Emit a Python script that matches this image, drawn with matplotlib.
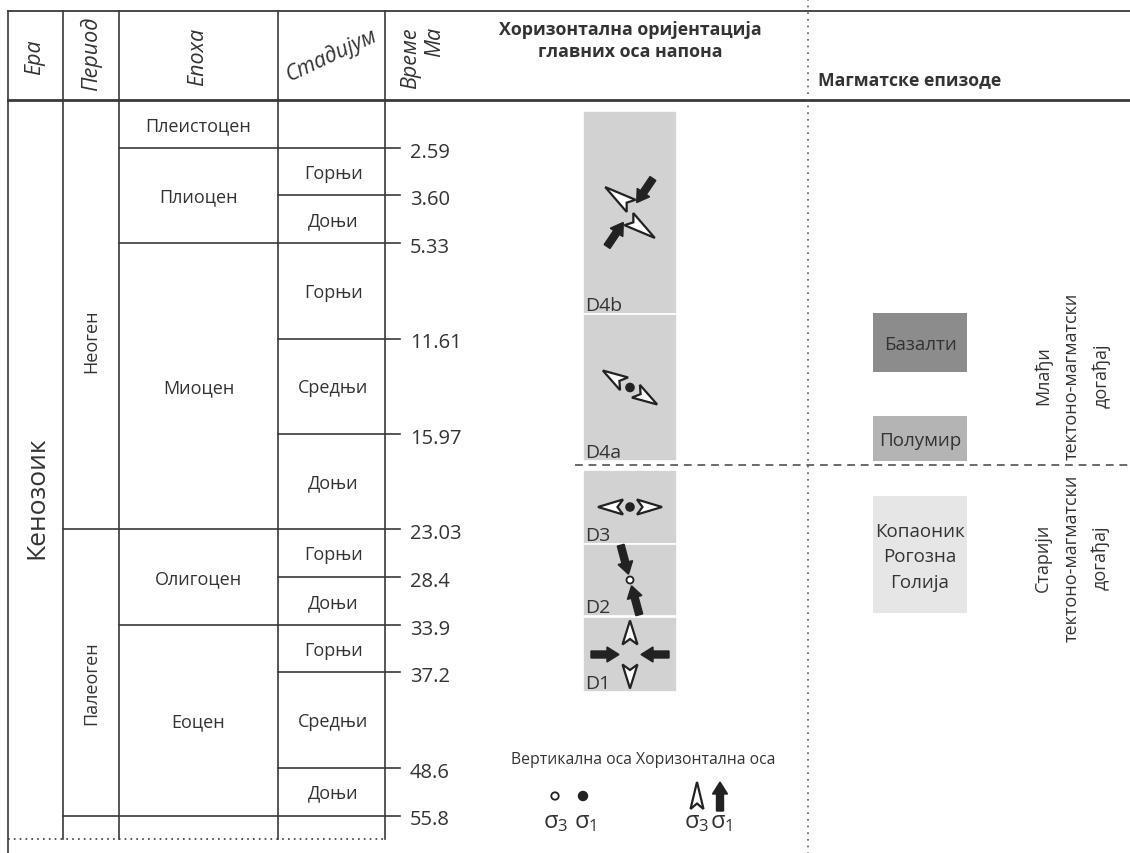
import numpy as np
import matplotlib.pyplot as plt
from matplotlib.patches import Rectangle, Polygon, Circle, FancyArrow

plt.rcParams['font.family'] = ['Open Sans', 'DejaVu Sans']
plt.rcParams['mathtext.default'] = 'regular'

# ---- data ----
era = 'Кенозоик'
periods = ['Неоген', 'Палеоген']
period_epochs = [3, 2]
epochs = ['Плеистоцен', 'Плиоцен', 'Миоцен', 'Олигоцен', 'Еоцен']
epoch_stages = [1, 2, 3, 2, 3]
stages = ['', 'Горњи', 'Доњи', 'Горњи', 'Средњи', 'Доњи',
          'Горњи', 'Доњи', 'Горњи', 'Средњи', 'Доњи']
stage_rows = [1, 1, 1, 2, 2, 2, 1, 1, 1, 2, 1]
ages = ['2.59', '3.60', '5.33', '11.61', '15.97', '23.03',
        '28.4', '33.9', '37.2', '48.6', '55.8']

phases = ['D4b', 'D4a', 'D3', 'D2', 'D1']
phase_span = [(112, 315), (315, 462), (471, 545), (545, 617), (618, 693)]
# sigma1 horizontal azimuth, sigma3 horizontal azimuth, vertical axis
phase_s1 = [56, None, None, 105, 0]
phase_s3 = [144, 148, 0, None, 90]
phase_vert = [None, 's1', 's1', 's3', None]

magma = ['Базалти', 'Полумир', 'Копаоник\nРогозна\nГолија']
magma_span = [(314, 373), (417, 462), (497, 614)]
magma_col = ['#8c8c8c', '#b4b4b4', '#e6e6e6']

events = ['Млађи\nтектоно-магматски\nдогађај', 'Старији\nтектоно-магматски\nдогађај']

# ---- layout ----
W, H = 1130, 854
cols = [8, 63, 119, 278, 385]
top, head_bot, unit_h = 12, 101, 47.7
lc = '#3a3a3a'
tc = '#333333'
fs = 13

fig = plt.figure(figsize=(W / 100, H / 100), dpi=100)
ax = fig.add_axes([0, 0, 1, 1])
ax.set_xlim(0, W)
ax.set_ylim(H, 0)
ax.axis('off')

# header frame
ax.plot([8, W], [top, top], color=lc, lw=1.3)
ax.plot([8, W], [head_bot, head_bot], color=lc, lw=2.0)
ax.plot([8, 8], [top, H], color=lc, lw=1.2)
for x in cols[1:]:
    ax.plot([x, x], [top, 840], color=lc, lw=1.2)
ax.plot([8, 385], [840, 840], color=lc, lw=1.2, ls=(0, (1, 2.5)))
ax.plot([808, 808], [0, H], color='#555555', lw=1.2, ls=(0, (1, 3)))

hkw = dict(color=tc, fontsize=15.5, style='italic', ha='center', va='center')
ax.text(35, 57, 'Ера', rotation=90, **hkw)
ax.text(91, 54, 'Период', rotation=90, **hkw)
ax.text(198, 57, 'Епоха', rotation=90, **hkw)
ax.text(331, 55, 'Стадијум', rotation=25, **hkw)
ax.text(423, 58, 'Време\nМа', rotation=90, multialignment='right',
        linespacing=1.2, **hkw)
ax.text(630, 41, 'Хоризонтална оријентација\nглавних оса напона', color=tc,
        fontsize=12.8, fontweight='bold', ha='center', va='center', linespacing=1.35)
ax.text(910, 80, 'Магматске епизоде', color=tc, fontsize=12.7,
        fontweight='bold', ha='center', va='center')

# stage rows
bounds = head_bot + unit_h * np.cumsum([0] + stage_rows)
epoch_idx = np.cumsum([0] + epoch_stages)
period_idx = np.cumsum([0] + period_epochs)

for i, (st, age) in enumerate(zip(stages, ages)):
    y0, y1 = bounds[i], bounds[i + 1]
    if st:
        ax.text((278 + 385) / 2 + 2, (y0 + y1) / 2 + 1, st, color=tc, fontsize=fs,
                ha='center', va='center')
    j = i + 1
    x_start = 278
    if j in epoch_idx:
        x_start = 119
        e = list(epoch_idx).index(j)
        if e in period_idx[1:]:
            x_start = 63
    ax.plot([x_start, 400], [y1, y1], color=lc, lw=1.2)
    ax.text(410, y1 + 4, age, color=tc, fontsize=14.5, ha='left', va='center')

for k, ep in enumerate(epochs):
    y0, y1 = bounds[epoch_idx[k]], bounds[epoch_idx[k + 1]]
    ax.text((119 + 278) / 2, (y0 + y1) / 2 + 1, ep, color=tc, fontsize=fs,
            ha='center', va='center')

for p, y in zip(periods, [341, 683]):
    ax.text(91, y, p, color=tc, fontsize=fs, rotation=90, ha='center', va='center')
ax.text(37, 498, era, color=tc, fontsize=19, rotation=90, ha='center', va='center')


# ---- stress glyphs ----
def vec(t):
    a = np.radians(t)
    return np.array([np.cos(a), -np.sin(a)])


def open_head(c, t, r0, r1, hw=7.5, notch=5.5, shift=0):
    d = vec(t)
    n = np.array([-d[1], d[0]])
    o = np.array(c, float) + shift * n
    pts = [o + r1 * d, o + r0 * d + hw * n, o + (r0 + notch) * d, o + r0 * d - hw * n]
    ax.add_patch(Polygon(pts, closed=True, fc='white', ec='#222222', lw=1.6,
                         joinstyle='miter', zorder=4))


def solid_arrow(tail, head):
    ax.add_patch(FancyArrow(tail[0], tail[1], head[0] - tail[0], head[1] - tail[1],
                            width=7, head_width=15, head_length=12,
                            length_includes_head=True, color='#222222', zorder=4))


gx = 630
for name, (y0, y1), s1, s3, vert in zip(phases, phase_span, phase_s1, phase_s3, phase_vert):
    ax.add_patch(Rectangle((583, y0), 94, y1 - y0, fc='#d2d2d2', ec='white', lw=1.2))
    ax.text(585, y1 - 9, name, color=tc, fontsize=14, ha='left', va='center')
    c = np.array([gx, (y0 + y1) / 2])
    if name == 'D4b':
        r0, r1, shift, R, r = 3, 35, 6, 41, 12
    elif name == 'D1':
        r0, r1, shift, R, r = 10, 34, 0, 39, 11
    elif name == 'D2':
        r0, r1, shift, R, r = 0, 0, 0, 36, 6
    else:
        r0, r1, shift, R, r = 7, 32, 0, 0, 0
    if s3 is not None:
        open_head(c, s3, r0, r1, shift=shift)
        open_head(c, s3 + 180, r0, r1, shift=shift)
    if s1 is not None:
        for t in (s1, s1 + 180):
            solid_arrow(c + R * vec(t), c + r * vec(t))
    if vert == 's1':
        ax.add_patch(Circle(c, 4.8, fc='#222222', ec='none', zorder=5))
    elif vert == 's3':
        ax.add_patch(Circle(c, 3.5, fc='white', ec='#222222', lw=1.3, zorder=5))

ax.plot([575, W], [466, 466], color='#6a6a6a', lw=1.4, ls=(0, (4, 3)))

# legend
ax.text(643, 760, 'Вертикална оса Хоризонтална оса', color=tc, fontsize=11.3,
        ha='center', va='center')
ax.add_patch(Circle((555, 797), 3.7, fc='white', ec='#222222', lw=1.3))
ax.add_patch(Circle((583, 797), 5.2, fc='#222222', ec='none'))
open_head((697, 810), 90, 0, 27, hw=6.5)
solid_arrow((720, 812), (720, 783))
for x, s in [(556, 3), (585, 1), (697, 3), (721, 1)]:
    ax.text(x, 822, r'$\sigma_%d$' % s, color=tc, fontsize=17, ha='center', va='center')

# magmatic episodes
for m, (y0, y1), col in zip(magma, magma_span, magma_col):
    ax.add_patch(Rectangle((873, y0), 94, y1 - y0, fc=col, ec='none'))
    ax.text(920, (y0 + y1) / 2 + 2, m, color=tc, fontsize=13.5, ha='center',
            va='center', linespacing=1.55)

for ev, y in zip(events, [376, 558]):
    ax.text(1072, y, ev, color=tc, fontsize=fs, rotation=90, ha='center',
            va='center', linespacing=1.75)

fig.savefig('out.png', dpi=100)
